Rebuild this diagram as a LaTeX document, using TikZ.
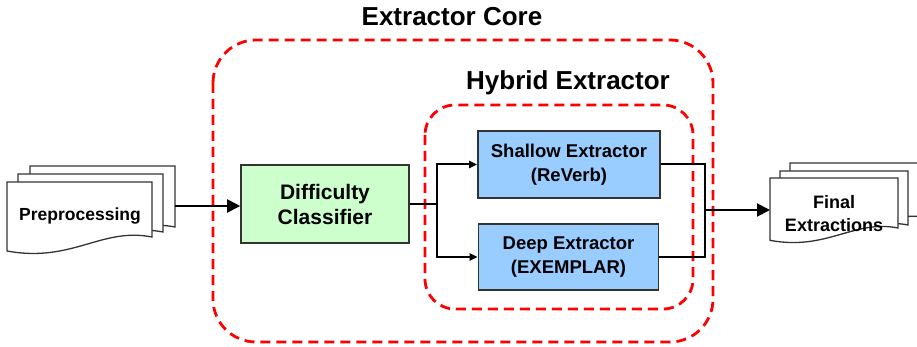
\documentclass[tikz,border=0pt]{standalone}
\usepackage{fontspec}
\setmainfont{Liberation Sans}
\usetikzlibrary{arrows.meta}
\definecolor{boxgreen}{HTML}{CCFFCC}
\definecolor{boxblue}{HTML}{99CCFF}
\definecolor{boxline}{HTML}{333333}
\newcommand{\docshape}[4]{%
  \pgfmathsetmacro{\docw}{#3-#1}%
  \pgfmathsetmacro{\docca}{#3-0.35*\docw}%
  \pgfmathsetmacro{\doccb}{#1+0.45*\docw}%
  \pgfmathsetmacro{\docsc}{\docw/145}%
  \filldraw[docbox] (#1,#2) -- (#3,#2) -- (#3,#4)
    .. controls (\docca,{#4-10*\docsc}) and (\doccb,{#4+26*\docsc}) .. (#1,{#4+14*\docsc}) -- cycle;}
\tikzset{
  docbox/.style={draw=boxline, fill=white, line width=1.3pt},
  procbox/.style={draw=boxline, line width=1.6pt, align=center, font=\bfseries},
  dashbox/.style={draw=red, line width=2.8pt, dash pattern=on 10pt off 6pt},
  conn/.style={draw=black, line width=2pt},
  bigarrow/.style={conn, -{Triangle[length=13pt,width=13pt]}},
  smallarrow/.style={conn, -{Triangle[length=8pt,width=7pt]}},
  titletext/.style={font=\fontsize{26}{30}\selectfont\bfseries},
  doctext/.style={align=center, font=\fontsize{17.5}{21}\selectfont\bfseries},
}
\begin{document}
\begin{tikzpicture}[x=1pt,y=-1pt]
\useasboundingbox (0,0) rectangle (917,347);
% containers
\draw[dashbox, rounded corners=43pt] (213,40) rectangle (713,342);
\draw[dashbox, rounded corners=30pt] (425,105) rectangle (693,309);
\node[titletext] (coretitle) at (452,17) {Extractor Core};
\node[titletext] (hybtitle) at (568,83) {Hybrid Extractor};
% preprocessing document stack
\docshape{30}{166}{175}{227}
\docshape{18}{174}{163}{232}
\docshape{7}{182}{152}{237}
\node[doctext] (prep) at (80,216) {Preprocessing};
\coordinate (prepout) at (175,206);
% final extractions document stack
\docshape{790}{163}{930}{218}
\docshape{780}{171}{908}{225}
\docshape{770}{178}{898}{228}
\node[doctext, font=\fontsize{18}{23}\selectfont\bfseries] (final) at (834,214) {Final\\Extractions};
\coordinate (finalin) at (770,210);
% process boxes
\node[procbox, fill=boxgreen, minimum width=168pt, minimum height=78pt,
      font=\fontsize{21}{25}\selectfont\bfseries] (cls) at (325,204) {Difficulty\\Classifier};
\node[procbox, fill=boxblue, minimum width=182pt, minimum height=67pt,
      font=\fontsize{18.5}{23.5}\selectfont\bfseries] (shallow) at (569,164.5) {Shallow Extractor\\(ReVerb)};
\node[procbox, fill=boxblue, minimum width=180pt, minimum height=66pt,
      font=\fontsize{18.5}{23.5}\selectfont\bfseries] (deep) at (568.5,257) {Deep Extractor\\(EXEMPLAR)};
% connectors
\draw[bigarrow] (prepout) -- (prepout -| cls.west);
\coordinate (split) at (437,204);
\draw[conn] (cls.east) -- (split);
\draw[smallarrow] (split) |- (shallow.west);
\draw[smallarrow] (split) |- (deep.west);
\coordinate (merge) at (705,210);
\draw[conn] (shallow.east) -| (merge);
\draw[conn] (merge) |- (deep.east);
\draw[bigarrow] (merge) -- (finalin);
\end{tikzpicture}
\end{document}
